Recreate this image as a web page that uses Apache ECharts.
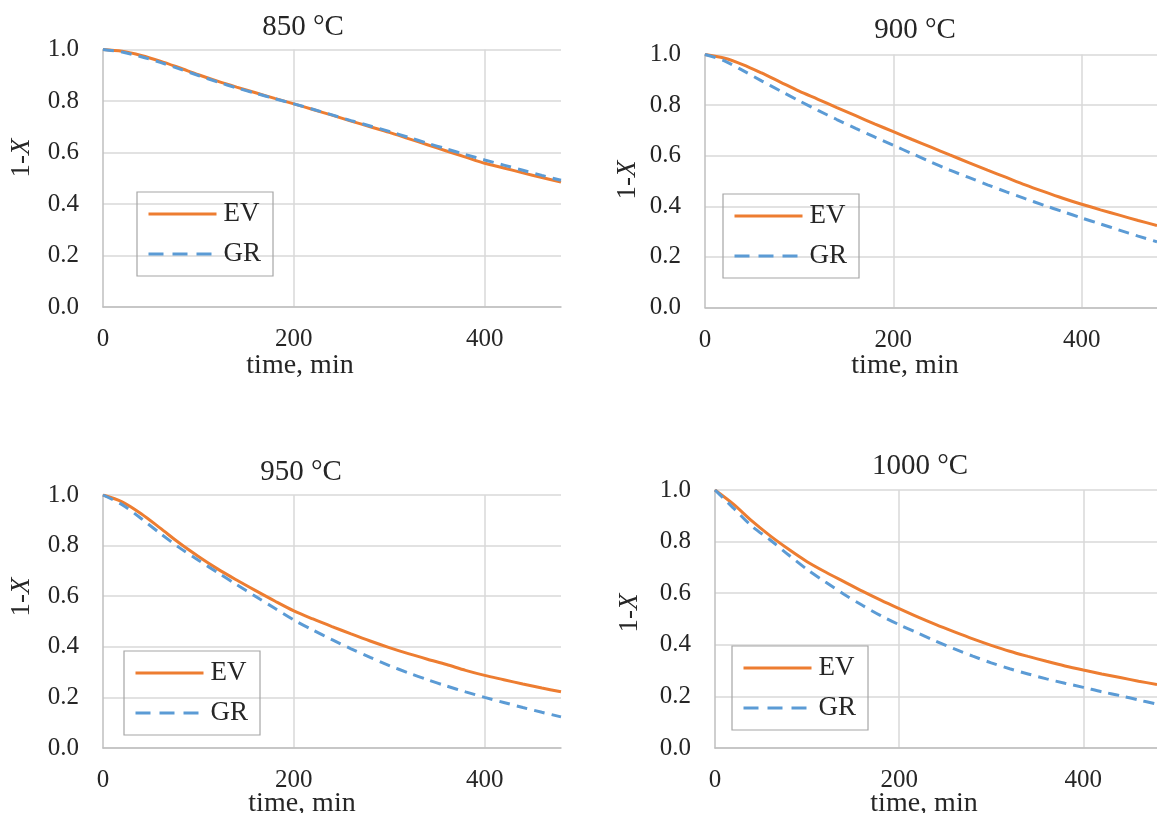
<!DOCTYPE html>
<html>
<head>
<meta charset="utf-8">
<script src="https://cdn.jsdelivr.net/npm/echarts@6/dist/echarts.min.js"></script>
<style>
html,body{margin:0;padding:0;background:#fff;}
#c{width:1157px;height:813px;}
</style>
</head>
<body>
<div id="c"></div>
<script>
// ---- data ----
const time = [0,20,40,60,80,100,120,140,160,180,200,220,240,260,280,300,320,340,360,380,400,420,440,460,480];
const panelTitles = ['850 °C', '900 °C', '950 °C', '1000 °C'];
const seriesNames = ['EV', 'GR'];
const yTicks = [0, 0.2, 0.4, 0.6, 0.8, 1.0];
const xTicks = [0, 200, 400];

const ev850 = [1.0,0.993,0.977,0.955,0.929,0.902,0.877,0.854,0.832,0.81,0.789,0.767,0.745,0.722,0.70,0.678,0.654,0.63,0.606,0.582,0.558,0.54,0.521,0.503,0.485];
const gr850 = [1.0,0.99,0.972,0.95,0.925,0.899,0.874,0.851,0.83,0.809,0.789,0.768,0.746,0.724,0.703,0.682,0.659,0.636,0.614,0.592,0.571,0.551,0.531,0.511,0.492];

const ev900 = [1.0,0.986,0.96,0.927,0.891,0.855,0.823,0.79,0.758,0.726,0.695,0.664,0.634,0.603,0.573,0.543,0.514,0.485,0.458,0.432,0.408,0.386,0.365,0.344,0.324];
const gr900 = [1.0,0.976,0.937,0.896,0.856,0.817,0.779,0.743,0.708,0.674,0.641,0.608,0.575,0.543,0.514,0.485,0.457,0.43,0.404,0.379,0.354,0.33,0.306,0.282,0.26];

const ev950 = [1.0,0.973,0.926,0.869,0.81,0.757,0.708,0.664,0.622,0.581,0.542,0.51,0.48,0.451,0.423,0.397,0.373,0.351,0.33,0.307,0.287,0.27,0.253,0.237,0.222];
const gr950 = [1.0,0.962,0.907,0.848,0.792,0.742,0.694,0.646,0.599,0.552,0.506,0.466,0.428,0.392,0.358,0.326,0.297,0.27,0.245,0.222,0.2,0.18,0.16,0.141,0.123];

const ev1000 = [1.0,0.945,0.88,0.822,0.77,0.722,0.682,0.645,0.608,0.573,0.54,0.508,0.478,0.45,0.423,0.398,0.375,0.355,0.336,0.318,0.302,0.287,0.273,0.259,0.246];
const gr1000 = [1.0,0.93,0.86,0.806,0.748,0.692,0.643,0.596,0.553,0.513,0.478,0.446,0.414,0.384,0.356,0.33,0.307,0.287,0.268,0.251,0.235,0.218,0.203,0.186,0.17];

const panelData = [[ev850, gr850], [ev900, gr900], [ev950, gr950], [ev1000, gr1000]];

// ---- layout ----
const FONT = '"Liberation Serif", "Times New Roman", serif';
const TXT = '#262626';
const grids = [
  {left:103, top:49.5, width:458, height:257.5},
  {left:705, top:54.5, width:462, height:253},
  {left:103, top:495, width:458, height:253},
  {left:715, top:490, width:456, height:258}
];
const titlePos = [[298,24],[910,27],[296,469],[915,463]];
const xNamePos = [[300,366],[905,366],[302,804],[924,804]];
const yNamePos = [[22,158],[628,180],[22,597],[630,613]];
const legendPos = [[137,192],[723,194],[124,651],[732,646]];
const colors = {EV:'#ED7D31', GR:'#5B9BD5'};

const option = {
  backgroundColor:'#ffffff',
  animation:false,
  title: panelTitles.map((t,i)=>({
    text:t, left:titlePos[i][0], top:titlePos[i][1]-16, textAlign:'center',
    textStyle:{fontFamily:FONT, fontSize:29, fontWeight:'normal', color:TXT}
  })),
  grid: grids.map(g=>Object.assign({containLabel:false}, g)),
  xAxis: grids.map((g,i)=>({
    type:'value', gridIndex:i, min:0, max:480, interval:200,
    axisLine:{show:true, lineStyle:{color:'#bfbfbf', width:1.5}},
    axisTick:{show:false},
    axisLabel:{margin:20, fontFamily:FONT, fontSize:25, color:TXT, showMaxLabel:false},
    splitLine:{show:true, showMaxLine:false, showMinLine:false, lineStyle:{color:'#d9d9d9', width:1.5}}
  })),
  yAxis: grids.map((g,i)=>({
    type:'value', gridIndex:i, min:0, max:1, interval:0.2,
    axisLine:{show:true, lineStyle:{color:'#bfbfbf', width:1.5}},
    axisTick:{show:false},
    axisLabel:{margin:24, fontFamily:FONT, fontSize:25, color:TXT, formatter:v=>v.toFixed(1)},
    splitLine:{show:true, lineStyle:{color:'#d9d9d9', width:1.5}}
  })),
  legend: legendPos.map((p,i)=>({
    orient:'vertical', left:p[0], top:p[1],
    data:[{name:'EV'}, {name:'GR', lineStyle:{type:[15,9], width:3}}],
    itemWidth:68, itemHeight:14, itemGap:12,
    padding:[8,12,8,10],
    borderColor:'#a6a6a6', borderWidth:1.2,
    selectedMode:false,
    itemStyle:{opacity:0, color:'rgba(0,0,0,0)', borderWidth:0},
    lineStyle:{width:3},
    textStyle:{fontFamily:FONT, fontSize:27, color:TXT, padding:[0,0,0,2], lineHeight:28}
  })),
  graphic: [].concat(
    xNamePos.map(p=>({type:'text', x:p[0], y:p[1], style:{text:'time, min', fontFamily:FONT, fontSize:28, fill:TXT, align:'center', verticalAlign:'middle'}})),
    yNamePos.map(p=>({type:'text', x:p[0], y:p[1], rotation:Math.PI/2,
      style:{text:'{a|1-}{b|X}', align:'center', verticalAlign:'middle',
        rich:{a:{fontFamily:FONT, fontSize:27, fill:TXT, color:TXT}, b:{fontFamily:FONT, fontSize:27, fontStyle:'italic', fill:TXT, color:TXT}}}}))
  ),
  series: []
};

panelData.forEach((pair,i)=>{
  pair.forEach((vals,k)=>{
    const name = seriesNames[k];
    option.series.push({
      type:'line', name:name, xAxisIndex:i, yAxisIndex:i,
      data: time.map((t,j)=>[t, vals[j]]),
      symbol:'none', smooth:0.3,
      lineStyle:{color:colors[name], width:3, type: k===0 ? 'solid' : [11,7]},
      itemStyle:{color:colors[name]}
    });
  });
});

const chart = echarts.init(document.getElementById('c'), null, {renderer:'canvas'});
chart.setOption(option);
</script>
</body>
</html>
